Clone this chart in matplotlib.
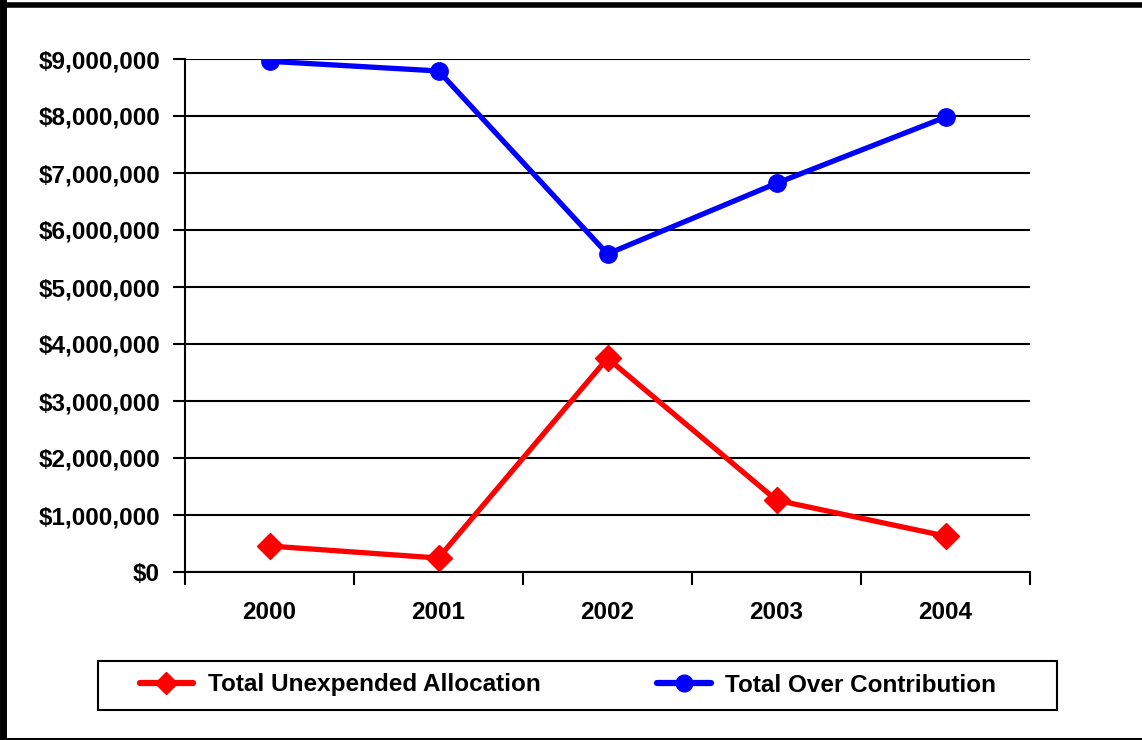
import matplotlib.pyplot as plt
from matplotlib.lines import Line2D
from matplotlib.patches import Rectangle
from matplotlib.ticker import FuncFormatter, MultipleLocator

years = ["2000", "2001", "2002", "2003", "2004"]
unexpended = [456000, 245000, 3750000, 1260000, 630000]
over_contribution = [8960000, 8790000, 5580000, 6820000, 7980000]

plt.rcParams["font.family"] = "Liberation Sans"
plt.rcParams["font.weight"] = "bold"

W, H = 1142, 740
fig = plt.figure(figsize=(W / 100, H / 100), dpi=100)
ax = fig.add_axes([185 / W, 1 - 572 / H, 845 / W, 513 / H])

x = list(range(len(years)))
ax.plot(x, unexpended, color="#ff0000", lw=3.8, marker="D", ms=13,
        label="Total Unexpended Allocation", solid_capstyle="round")
ax.plot(x, over_contribution, color="#0000ff", lw=3.8, marker="o", ms=12.5,
        label="Total Over Contribution", solid_capstyle="round")

ax.set_xlim(-0.5, 4.5)
ax.set_ylim(0, 9000000)
ax.yaxis.set_major_locator(MultipleLocator(1000000))
ax.yaxis.set_major_formatter(FuncFormatter(lambda v, p: f"${v:,.0f}"))
ax.set_xticks(x)
ax.set_xticklabels(years)
ax.set_xticks([i + 0.5 for i in range(-1, 5)], minor=True)
ax.tick_params(axis="x", which="major", length=0, pad=21, labelsize=17.5)
ax.tick_params(axis="x", which="minor", length=9, width=1.5, direction="out")
ax.tick_params(axis="y", length=9, width=1.5, direction="out", pad=9, labelsize=17.5)
ax.grid(axis="y", color="black", lw=1.5)
ax.set_axisbelow(True)
for s in ["top", "right"]:
    ax.spines[s].set_visible(False)
for s in ["left", "bottom"]:
    ax.spines[s].set_linewidth(1.5)

# legend box drawn by hand, entries placed inside
fig.add_artist(Rectangle((98 / W, 1 - 710 / H), 959 / W, 49 / H, fill=False,
                         edgecolor="black", lw=1.5, transform=fig.transFigure))
handles = [
    Line2D([], [], color="#ff0000", lw=4.5, marker="D", ms=11, solid_capstyle="round"),
    Line2D([], [], color="#0000ff", lw=4.5, marker="o", ms=12, solid_capstyle="round"),
]
fig.legend(handles, ["Total Unexpended Allocation", "Total Over Contribution"],
           loc="center", bbox_to_anchor=(568 / W, 1 - 685 / H), ncol=2,
           frameon=False, fontsize=17.5, handlelength=2.2, handletextpad=0.6,
           columnspacing=4.8, borderpad=0, borderaxespad=0)

# outer border
fig.add_artist(Line2D([0.0026, 0.0026], [0, 1], color="black", lw=5, transform=fig.transFigure))
fig.add_artist(Line2D([0, 1], [0.9935, 0.9935], color="black", lw=4, transform=fig.transFigure))
fig.add_artist(Line2D([0, 1], [0.001, 0.001], color="black", lw=1.5, transform=fig.transFigure))

fig.savefig("out.png", dpi=100)
